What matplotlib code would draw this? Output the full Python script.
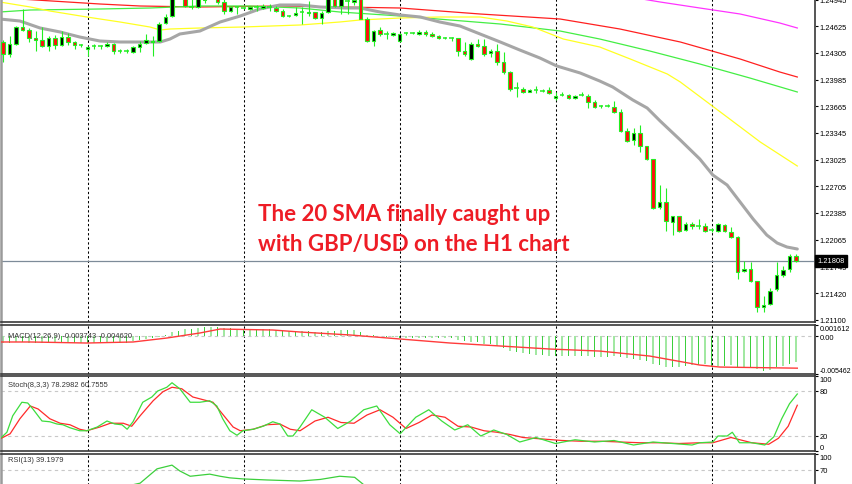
import matplotlib
matplotlib.use('Agg')
import matplotlib.pyplot as plt
import numpy as np

W, H, DPI = 852, 485, 100

# ---------------- data ----------------
opens = [1.24436, 1.24292, 1.24412, 1.24616, 1.24580, 1.24484, 1.24460, 1.24388, 1.24484, 1.24400,
         1.24496, 1.24436, 1.24400, 1.24352, 1.24388, 1.24388, 1.24388, 1.24412, 1.24328, 1.24328,
         1.24316, 1.24376, 1.24424, 1.24436, 1.24448, 1.24664, 1.24748, 1.24976, 1.24988, 1.24856,
         1.24856, 1.24964, 1.24976, 1.24964, 1.24916, 1.24808, 1.24856, 1.24844, 1.24832, 1.24856,
         1.24844, 1.24856, 1.24844, 1.24808, 1.24748, 1.24760, 1.24796, 1.24784, 1.24796, 1.24724,
         1.24796, 1.24976, 1.24868, 1.24928, 1.24916, 1.24952, 1.24712, 1.24448, 1.24580, 1.24532,
         1.24520, 1.24448, 1.24544, 1.24544, 1.24532, 1.24556, 1.24532, 1.24508, 1.24484, 1.24484,
         1.24484, 1.24328, 1.24232, 1.24412, 1.24388, 1.24304, 1.24328, 1.24196, 1.24076, 1.23884,
         1.23872, 1.23836, 1.23860, 1.23848, 1.23860, 1.23764, 1.23800, 1.23800, 1.23764, 1.23800,
         1.23788, 1.23716, 1.23668, 1.23668, 1.23656, 1.23596, 1.23368, 1.23260, 1.23344, 1.23188,
         1.23032, 1.22456, 1.22516, 1.22276, 1.22348, 1.22180, 1.22252, 1.22228, 1.22228, 1.22180,
         1.22168, 1.22240, 1.22156, 1.22096, 1.21688, 1.21712, 1.21568, 1.21256, 1.21292, 1.21472,
         1.21640, 1.21712, 1.21868]
highs = [1.24460, 1.24508, 1.24628, 1.24832, 1.24604, 1.24568, 1.24616, 1.24508, 1.24520, 1.24568,
         1.24544, 1.24448, 1.24412, 1.24388, 1.24412, 1.24400, 1.24436, 1.24424, 1.24352, 1.24352,
         1.24388, 1.24448, 1.24532, 1.24508, 1.24676, 1.24772, 1.25012, 1.25072, 1.25024, 1.24964,
         1.25000, 1.25000, 1.25024, 1.24988, 1.24952, 1.24868, 1.24868, 1.24856, 1.24868, 1.24880,
         1.24892, 1.24892, 1.24868, 1.24832, 1.24760, 1.24856, 1.24856, 1.24928, 1.24796, 1.24808,
         1.25000, 1.25000, 1.24988, 1.24988, 1.25012, 1.24976, 1.24736, 1.24580, 1.24616, 1.24568,
         1.24556, 1.24544, 1.24556, 1.24556, 1.24580, 1.24580, 1.24556, 1.24520, 1.24496, 1.24496,
         1.24484, 1.24436, 1.24436, 1.24472, 1.24472, 1.24352, 1.24412, 1.24316, 1.24088, 1.23956,
         1.23896, 1.23872, 1.23908, 1.23872, 1.23896, 1.23836, 1.23836, 1.23812, 1.23800, 1.23836,
         1.23812, 1.23740, 1.23680, 1.23692, 1.23728, 1.23632, 1.23404, 1.23404, 1.23440, 1.23188,
         1.23032, 1.22720, 1.22684, 1.22348, 1.22348, 1.22276, 1.22276, 1.22312, 1.22264, 1.22204,
         1.22264, 1.22252, 1.22216, 1.22108, 1.21808, 1.21796, 1.21568, 1.21388, 1.21484, 1.21796,
         1.21748, 1.21892, 1.21892]
lows = [1.24196, 1.24256, 1.24400, 1.24568, 1.24436, 1.24328, 1.24376, 1.24328, 1.24352, 1.24388,
        1.24400, 1.24352, 1.24376, 1.24268, 1.24352, 1.24352, 1.24376, 1.24292, 1.24304, 1.24304,
        1.24304, 1.24316, 1.24412, 1.24268, 1.24436, 1.24652, 1.24736, 1.24964, 1.24856, 1.24832,
        1.24844, 1.24904, 1.24964, 1.24892, 1.24772, 1.24796, 1.24772, 1.24832, 1.24820, 1.24808,
        1.24832, 1.24808, 1.24796, 1.24736, 1.24736, 1.24748, 1.24652, 1.24748, 1.24712, 1.24652,
        1.24784, 1.24856, 1.24772, 1.24772, 1.24880, 1.24712, 1.24436, 1.24388, 1.24508, 1.24472,
        1.24508, 1.24436, 1.24520, 1.24532, 1.24520, 1.24508, 1.24496, 1.24472, 1.24472, 1.24448,
        1.24268, 1.24268, 1.24220, 1.24376, 1.24268, 1.24256, 1.24160, 1.24052, 1.23848, 1.23776,
        1.23824, 1.23836, 1.23824, 1.23836, 1.23812, 1.23740, 1.23788, 1.23752, 1.23752, 1.23788,
        1.23644, 1.23644, 1.23644, 1.23656, 1.23584, 1.23356, 1.23236, 1.23200, 1.23116, 1.23020,
        1.22432, 1.22432, 1.22168, 1.22120, 1.22156, 1.22168, 1.22192, 1.22192, 1.22156, 1.22156,
        1.22156, 1.22156, 1.22084, 1.21592, 1.21676, 1.21556, 1.21196, 1.21196, 1.21280, 1.21448,
        1.21616, 1.21676, 1.21796]
closes = [1.24292, 1.24412, 1.24616, 1.24580, 1.24484, 1.24460, 1.24388, 1.24484, 1.24400, 1.24496,
          1.24436, 1.24400, 1.24400, 1.24376, 1.24388, 1.24388, 1.24412, 1.24328, 1.24328, 1.24328,
          1.24376, 1.24412, 1.24460, 1.24448, 1.24652, 1.24736, 1.24976, 1.25024, 1.24868, 1.24856,
          1.24976, 1.24940, 1.25000, 1.24916, 1.24808, 1.24856, 1.24856, 1.24844, 1.24856, 1.24856,
          1.24868, 1.24856, 1.24808, 1.24748, 1.24748, 1.24784, 1.24796, 1.24796, 1.24724, 1.24784,
          1.24976, 1.24868, 1.24964, 1.24928, 1.24940, 1.24712, 1.24448, 1.24568, 1.24532, 1.24532,
          1.24544, 1.24532, 1.24544, 1.24544, 1.24556, 1.24532, 1.24508, 1.24484, 1.24484, 1.24484,
          1.24328, 1.24292, 1.24412, 1.24388, 1.24292, 1.24328, 1.24196, 1.24076, 1.23872, 1.23884,
          1.23836, 1.23860, 1.23860, 1.23848, 1.23824, 1.23788, 1.23800, 1.23764, 1.23788, 1.23800,
          1.23716, 1.23656, 1.23668, 1.23668, 1.23596, 1.23368, 1.23248, 1.23344, 1.23188, 1.23032,
          1.22444, 1.22516, 1.22288, 1.22348, 1.22168, 1.22252, 1.22228, 1.22228, 1.22168, 1.22180,
          1.22252, 1.22168, 1.22096, 1.21676, 1.21712, 1.21568, 1.21256, 1.21280, 1.21448, 1.21640,
          1.21700, 1.21868, 1.21808]

# moving averages (candle index, price)
sma20_idx = [-0.5, 2.6, 5.7, 8.8, 11.8, 14.9, 18.0, 24.2, 25.7, 27.2, 30.3, 33.4, 36.5, 39.5, 42.6,
             45.7, 48.8, 52.6, 54.9, 58.0, 61.1, 64.2, 67.2, 70.3, 73.4, 76.5, 79.5, 82.6, 85.2, 88.8,
             91.8, 93.8, 96.9, 99.1, 101.1, 104.2, 107.2, 109.2, 111.4, 113.4, 115.4, 117.5, 119.1,
             120.6, 122.2]
sma20_val = [1.24712, 1.24688, 1.24604, 1.24556, 1.24496, 1.24448, 1.24436, 1.24436, 1.24472, 1.24532,
             1.24568, 1.24676, 1.24748, 1.24832, 1.24880, 1.24880, 1.24856, 1.24844, 1.24844, 1.24796,
             1.24760, 1.24736, 1.24676, 1.24628, 1.24532, 1.24436, 1.24340, 1.24244, 1.24148, 1.24064,
             1.23968, 1.23896, 1.23740, 1.23644, 1.23488, 1.23260, 1.23032, 1.22840, 1.22720, 1.22516,
             1.22312, 1.22120, 1.22024, 1.21976, 1.21952]
yellow_idx = [-0.5, 4.2, 7.2, 12.9, 18.0, 22.6, 24.2, 25.7, 30.3, 36.9, 45.7, 51.8, 54.9, 61.1, 67.2,
              73.4, 77.5, 81.5, 86.2, 91.8, 96.5, 102.2, 104.2, 111.8, 116.5, 122.2]
yellow_val = [1.24916, 1.24856, 1.24808, 1.24736, 1.24676, 1.24616, 1.24580, 1.24592, 1.24604, 1.24616,
              1.24640, 1.24676, 1.24700, 1.24724, 1.24736, 1.24736, 1.24688, 1.24616, 1.24472, 1.24376,
              1.24232, 1.24052, 1.23956, 1.23512, 1.23236, 1.22948]
green_idx = [-0.5, 4.2, 14.9, 22.6, 30.3, 38.0, 45.7, 51.8, 61.1, 68.8, 76.5, 85.7, 91.8, 99.5, 107.2,
             114.9, 122.2]
green_val = [1.24796, 1.24820, 1.24832, 1.24844, 1.24868, 1.24868, 1.24844, 1.24796, 1.24748, 1.24700,
             1.24652, 1.24568, 1.24472, 1.24328, 1.24172, 1.24004, 1.23836]
red_idx = [-0.5, 2.6, 14.9, 21.1, 30.3, 42.6, 61.1, 73.4, 85.7, 94.9, 104.2, 113.4, 119.5, 122.2]
red_val = [1.24964, 1.24952, 1.24892, 1.24868, 1.24856, 1.24868, 1.24844, 1.24772, 1.24712, 1.24592,
           1.24436, 1.24232, 1.24076, 1.24016]
magenta_idx = [96.5, 101.1, 107.2, 113.4, 119.5, 122.2]
magenta_val = [1.24976, 1.24916, 1.24844, 1.24772, 1.24664, 1.24604]

# MACD main (histogram, one per candle) and signal line
macd_main = [-0.00100, -0.00095, -0.00090, -0.00090, -0.00092, -0.00094, -0.00096, -0.00096, -0.00096, -0.00096,
             -0.00096, -0.00096, -0.00096, -0.00098, -0.00098, -0.00098, -0.00098, -0.00098, -0.00098, -0.00095,
             -0.00075, -0.00060, -0.00040, -0.00030, -0.00010, 0.00010, 0.00060, 0.00080, 0.00100, 0.00110,
             0.00120, 0.00130, 0.00130, 0.00130, 0.00120, 0.00120, 0.00110, 0.00110, 0.00110, 0.00100,
             0.00100, 0.00100, 0.00090, 0.00080, 0.00080, 0.00080, 0.00070, 0.00070, 0.00060, 0.00060,
             0.00080, 0.00080, 0.00090, 0.00090, 0.00090, 0.00060, 0.00020, 0.00010, 0.00000, -0.00010,
             -0.00010, -0.00020, -0.00020, -0.00020, -0.00020, -0.00020, -0.00025, -0.00028, -0.00030, -0.00030,
             -0.00050, -0.00070, -0.00080, -0.00090, -0.00110, -0.00120, -0.00140, -0.00170, -0.00210, -0.00230,
             -0.00250, -0.00260, -0.00270, -0.00270, -0.00280, -0.00290, -0.00290, -0.00290, -0.00290, -0.00280,
             -0.00290, -0.00300, -0.00300, -0.00300, -0.00280, -0.00300, -0.00320, -0.00330, -0.00350, -0.00360,
             -0.00400, -0.00420, -0.00440, -0.00440, -0.00440, -0.00430, -0.00420, -0.00410, -0.00400, -0.00450,
             -0.00430, -0.00430, -0.00420, -0.00450, -0.00450, -0.00450, -0.00470, -0.00500, -0.00490, -0.00450,
             -0.00430, -0.00400, -0.003743]
signal_idx = [-0.5, 4.2, 12.9, 20.0, 25.2, 30.3, 33.4, 41.5, 45.7, 53.4, 61.1, 68.8, 76.5, 84.2, 91.8,
              99.5, 107.2, 110.3, 122.2]
signal_val = [-0.00084, -0.00084, -0.00099, -0.00084, -0.00027, 0.00046, 0.00103, 0.00089, 0.00060, 0.00017,
              -0.00041, -0.00099, -0.00142, -0.00186, -0.00215, -0.00287, -0.00417, -0.00446, -0.00462]

# Stochastic %K and %D
stk_idx = [-0.5, 0.6, 1.5, 2.9, 3.8, 4.6, 6.0, 7.2, 8.3, 9.2, 10.3, 11.8, 12.9, 14.5, 16.0, 17.2, 18.3,
           19.1, 20.0, 21.5, 22.9, 23.8, 25.2, 26.0, 27.2, 28.8, 30.3, 31.8, 32.9, 33.8, 34.9, 36.0, 36.9,
           38.5, 40.0, 41.5, 42.6, 43.8, 44.6, 45.7, 47.5, 49.5, 51.5, 53.5, 55.5, 57.5, 59.5, 61.1, 63.5,
           65.5, 67.5, 69.5, 71.5, 73.5, 75.5, 77.5, 79.5, 82.0, 85.0, 88.0, 91.0, 94.0, 97.0, 100.0, 103.0,
           106.0, 107.2, 109.2, 110.0, 111.4, 112.2, 113.3, 115.2, 117.2, 118.6, 119.8, 121.0, 122.2]
stk_val = [16, 25, 47, 65, 64, 56, 40, 39, 36, 35, 31, 27, 27, 32, 40, 36, 35, 29, 39, 65, 72, 80, 85, 91,
           83, 65, 65, 67, 60, 43, 27, 21, 27, 29, 33, 39, 36, 20, 20, 32, 55, 45, 30, 40, 55, 60, 35, 23,
           45, 55, 40, 28, 35, 20, 28, 22, 12, 18, 10, 15, 12, 14, 8, 12, 10, 8, 11, 12, 20, 20, 25, 11,
           11, 8, 19, 43, 63, 76]
std_idx = [-0.5, 1.1, 2.6, 4.2, 5.4, 7.2, 8.8, 10.3, 11.8, 12.9, 14.9, 16.5, 18.5, 19.8, 21.1, 23.1, 24.6,
           26.0, 27.5, 29.2, 31.4, 32.3, 33.8, 35.4, 36.5, 38.5, 40.6, 42.6, 44.2, 45.7, 48.0, 50.0, 52.0,
           54.0, 56.0, 58.0, 60.0, 62.0, 64.0, 66.0, 68.0, 70.0, 72.0, 74.0, 76.0, 78.0, 80.0, 83.0, 86.0,
           89.0, 92.0, 95.0, 98.0, 101.0, 104.0, 107.2, 109.2, 112.0, 115.2, 117.8, 119.3, 120.8, 122.2]
std_val = [16, 23, 43, 60, 56, 43, 37, 35, 29, 27, 32, 37, 37, 33, 47, 67, 79, 85, 83, 72, 67, 65, 49, 32,
           27, 29, 35, 36, 29, 27, 40, 45, 38, 37, 48, 55, 45, 30, 38, 48, 45, 33, 32, 27, 25, 22, 18, 16,
           14, 13, 13, 12, 11, 11, 10, 11, 11, 18, 11, 9, 17, 33, 61]

# RSI
rsi_idx = [-0.5, 10.0, 20.0, 21.1, 23.7, 26.0, 27.2, 28.8, 30.3, 31.8, 33.4, 34.9, 36.9, 40.6, 45.7,
           48.8, 51.8, 54.1, 55.7, 61.1, 71.9, 84.2, 99.5, 113.4, 122.2]
rsi_val = [35, 40, 42, 45, 72, 79, 68, 58, 60, 62, 58, 55, 53, 51, 49, 52, 58, 56, 40, 40, 30, 25, 20, 20, 39]

price_ticks = [1.24945, 1.24625, 1.24305, 1.23985, 1.23665, 1.23345, 1.23025, 1.22705, 1.22385,
               1.22065, 1.21745, 1.21420, 1.21100]
price_labels = ['1.24945', '1.24625', '1.24305', '1.23985', '1.23665', '1.23345', '1.23025', '1.22705',
                '1.22385', '1.22065', '1.21745', '1.21420', '1.21100']
current_price = 1.21808
macd_range = (-0.005462, 0.001612)
macd_ticks = [0.001612, 0.0, -0.005462]
macd_labels = ['0.001612', '0.00', '-0.005462']
stoch_ticks = [100, 80, 20, 0]
rsi_ticks = [100, 70]
day_separators = [13, 37, 61, 85, 109]
annotation = ["The 20 SMA finally caught up", "with GBP/USD on the H1 chart"]
macd_title = "MACD(12,26,9) -0.003743 -0.004620"
stoch_title = "Stoch(8,3,3) 78.2982 60.7555"
rsi_title = "RSI(13) 39.1979"

# ---------------- figure ----------------
fig = plt.figure(figsize=(W / DPI, H / DPI), dpi=DPI)
fig.patch.set_facecolor('white')

L, R = 1, 815            # plot area horizontal extent in px
XMIN = (L - 3) / 6.5
XMAX = (R - 3) / 6.5

def add_ax(top, bottom):
    return fig.add_axes([L / W, 1 - bottom / H, (R - L) / W, (bottom - top) / H])

LBL_FONT = 'Liberation Sans'
LBL_SIZE = 5.4
SPINE = '#3a3a3a'

def style(ax, ticks, labels, ylim, top_va=None, bottom_va=None):
    ax.set_xlim(XMIN, XMAX)
    ax.set_ylim(*ylim)
    ax.set_facecolor('white')
    ax.set_xticks([])
    ax.yaxis.tick_right()
    ax.set_yticks(ticks)
    ax.set_yticklabels(labels)
    ax.tick_params(axis='y', direction='out', length=2.5, width=0.8, pad=1.0, colors='black',
                   labelsize=LBL_SIZE)
    for t in ax.get_yticklabels():
        t.set_fontfamily(LBL_FONT)
    tl = ax.get_yticklabels()
    if top_va:
        tl[0].set_va(top_va)
    if bottom_va:
        tl[-1].set_va(bottom_va)
    ax.spines['left'].set_color('#9a9a9a')
    ax.spines['left'].set_linewidth(1.8)
    ax.spines['right'].set_color('#555555')
    ax.spines['right'].set_linewidth(1.4)
    ax.spines['top'].set_color(SPINE)
    ax.spines['top'].set_linewidth(1.2)
    ax.spines['bottom'].set_color(SPINE)
    ax.spines['bottom'].set_linewidth(1.2)
    for s in day_separators:
        ax.axvline(s, color='black', lw=0.75, ls=(0, (2.2, 2.2)), zorder=0.5)

LIME = '#22ee22'

# ---- main price panel ----
ax = add_ax(0, 323)
style(ax, price_ticks, price_labels, (1.21076, 1.24952))
ax.spines['top'].set_visible(False)

ax.plot(magenta_idx, magenta_val, color='#ff33ff', lw=0.9, zorder=1)
ax.plot(red_idx, red_val, color='#ff2020', lw=0.9, zorder=1)
ax.plot(green_idx, green_val, color='#44ee44', lw=0.9, zorder=1)
ax.plot(yellow_idx, yellow_val, color='#ffff22', lw=0.9, zorder=1)
ax.plot(sma20_idx, sma20_val, color='#a6a6a6', lw=2.2, zorder=1.2, solid_capstyle='round')

o = np.array(opens); c = np.array(closes); h = np.array(highs); lo = np.array(lows)
idx = np.arange(len(o))
ax.vlines(idx, lo, h, color=LIME, lw=0.8, zorder=2)
up = c > o
dn = c < o
eq = c == o
ax.bar(idx[up], (c - o)[up], bottom=o[up], width=0.56, color='black', edgecolor=LIME, lw=0.8, zorder=3)
ax.bar(idx[dn], (o - c)[dn], bottom=c[dn], width=0.56, color='#ff1010', edgecolor=LIME, lw=0.8, zorder=3)
ax.hlines(o[eq], idx[eq] - 0.32, idx[eq] + 0.32, color=LIME, lw=1.1, zorder=3)

ax.axhline(current_price, color='#7d8b99', lw=0.9, zorder=1.5)
ax.text(1.003, current_price, '1.21808', transform=ax.get_yaxis_transform(), ha='left', va='center',
        color='white', fontsize=LBL_SIZE, family=LBL_FONT, zorder=10, clip_on=False,
        bbox=dict(boxstyle='square,pad=0.3', fc='black', ec='black'))

for k, base in enumerate((221, 251)):
    fig.text(258 / W, 1 - base / H, annotation[k], color='#ee1c25', fontsize=16.0, family='Lato',
             weight='bold', ha='left', va='baseline')

# ---- MACD panel ----
axm = add_ax(326, 375)
style(axm, macd_ticks, macd_labels, macd_range, top_va='top', bottom_va='bottom')
axm.get_yticklabels()[-1].set_fontsize(5.0)
axm.get_yticklabels()[0].set_fontsize(5.2)
axm.axhline(0, color='#c8c8c8', lw=0.8, ls=(0, (3, 3)), zorder=0.6)
mm = np.array(macd_main)
cols = ['#3ccf3c' if k % 2 else '#a2e8a2' for k in range(len(mm))]
axm.bar(np.arange(len(mm)), mm, width=0.26, color=cols, zorder=2)
axm.plot(signal_idx, signal_val, color='#ff3b3b', lw=1.0, zorder=3)
axm.text(7 / (R - L), 0.78, macd_title, transform=axm.transAxes, fontsize=LBL_SIZE, family=LBL_FONT,
         color='#333333', va='center', ha='left')

# ---- Stochastic panel ----
axs = add_ax(377, 452)
style(axs, stoch_ticks, [str(t) for t in stoch_ticks], (0, 100), top_va='top', bottom_va='bottom')
for lv in (80, 20):
    axs.axhline(lv, color='#c8c8c8', lw=0.8, ls=(0, (3, 3)), zorder=0.6)
axs.plot(std_idx, std_val, color='#ff2a2a', lw=0.9, zorder=3)
axs.plot(stk_idx, stk_val, color='#3ddd3d', lw=0.9, zorder=3)
axs.text(7 / (R - L), 0.88, stoch_title, transform=axs.transAxes, fontsize=LBL_SIZE, family=LBL_FONT,
         color='#333333', va='center', ha='left')

# ---- RSI panel (cut by the figure bottom) ----
axr = add_ax(455, 508)
style(axr, rsi_ticks, [str(t) for t in rsi_ticks], (0, 100), top_va='top')
axr.axhline(70, color='#c8c8c8', lw=0.8, ls=(0, (3, 3)), zorder=0.6)
axr.plot(rsi_idx, rsi_val, color='#3ccf3c', lw=0.9, zorder=3)
axr.text(7 / (R - L), 0.9, rsi_title, transform=axr.transAxes, fontsize=LBL_SIZE, family=LBL_FONT,
         color='#333333', va='center', ha='left')

fig.savefig('out.png', dpi=DPI, facecolor='white')
